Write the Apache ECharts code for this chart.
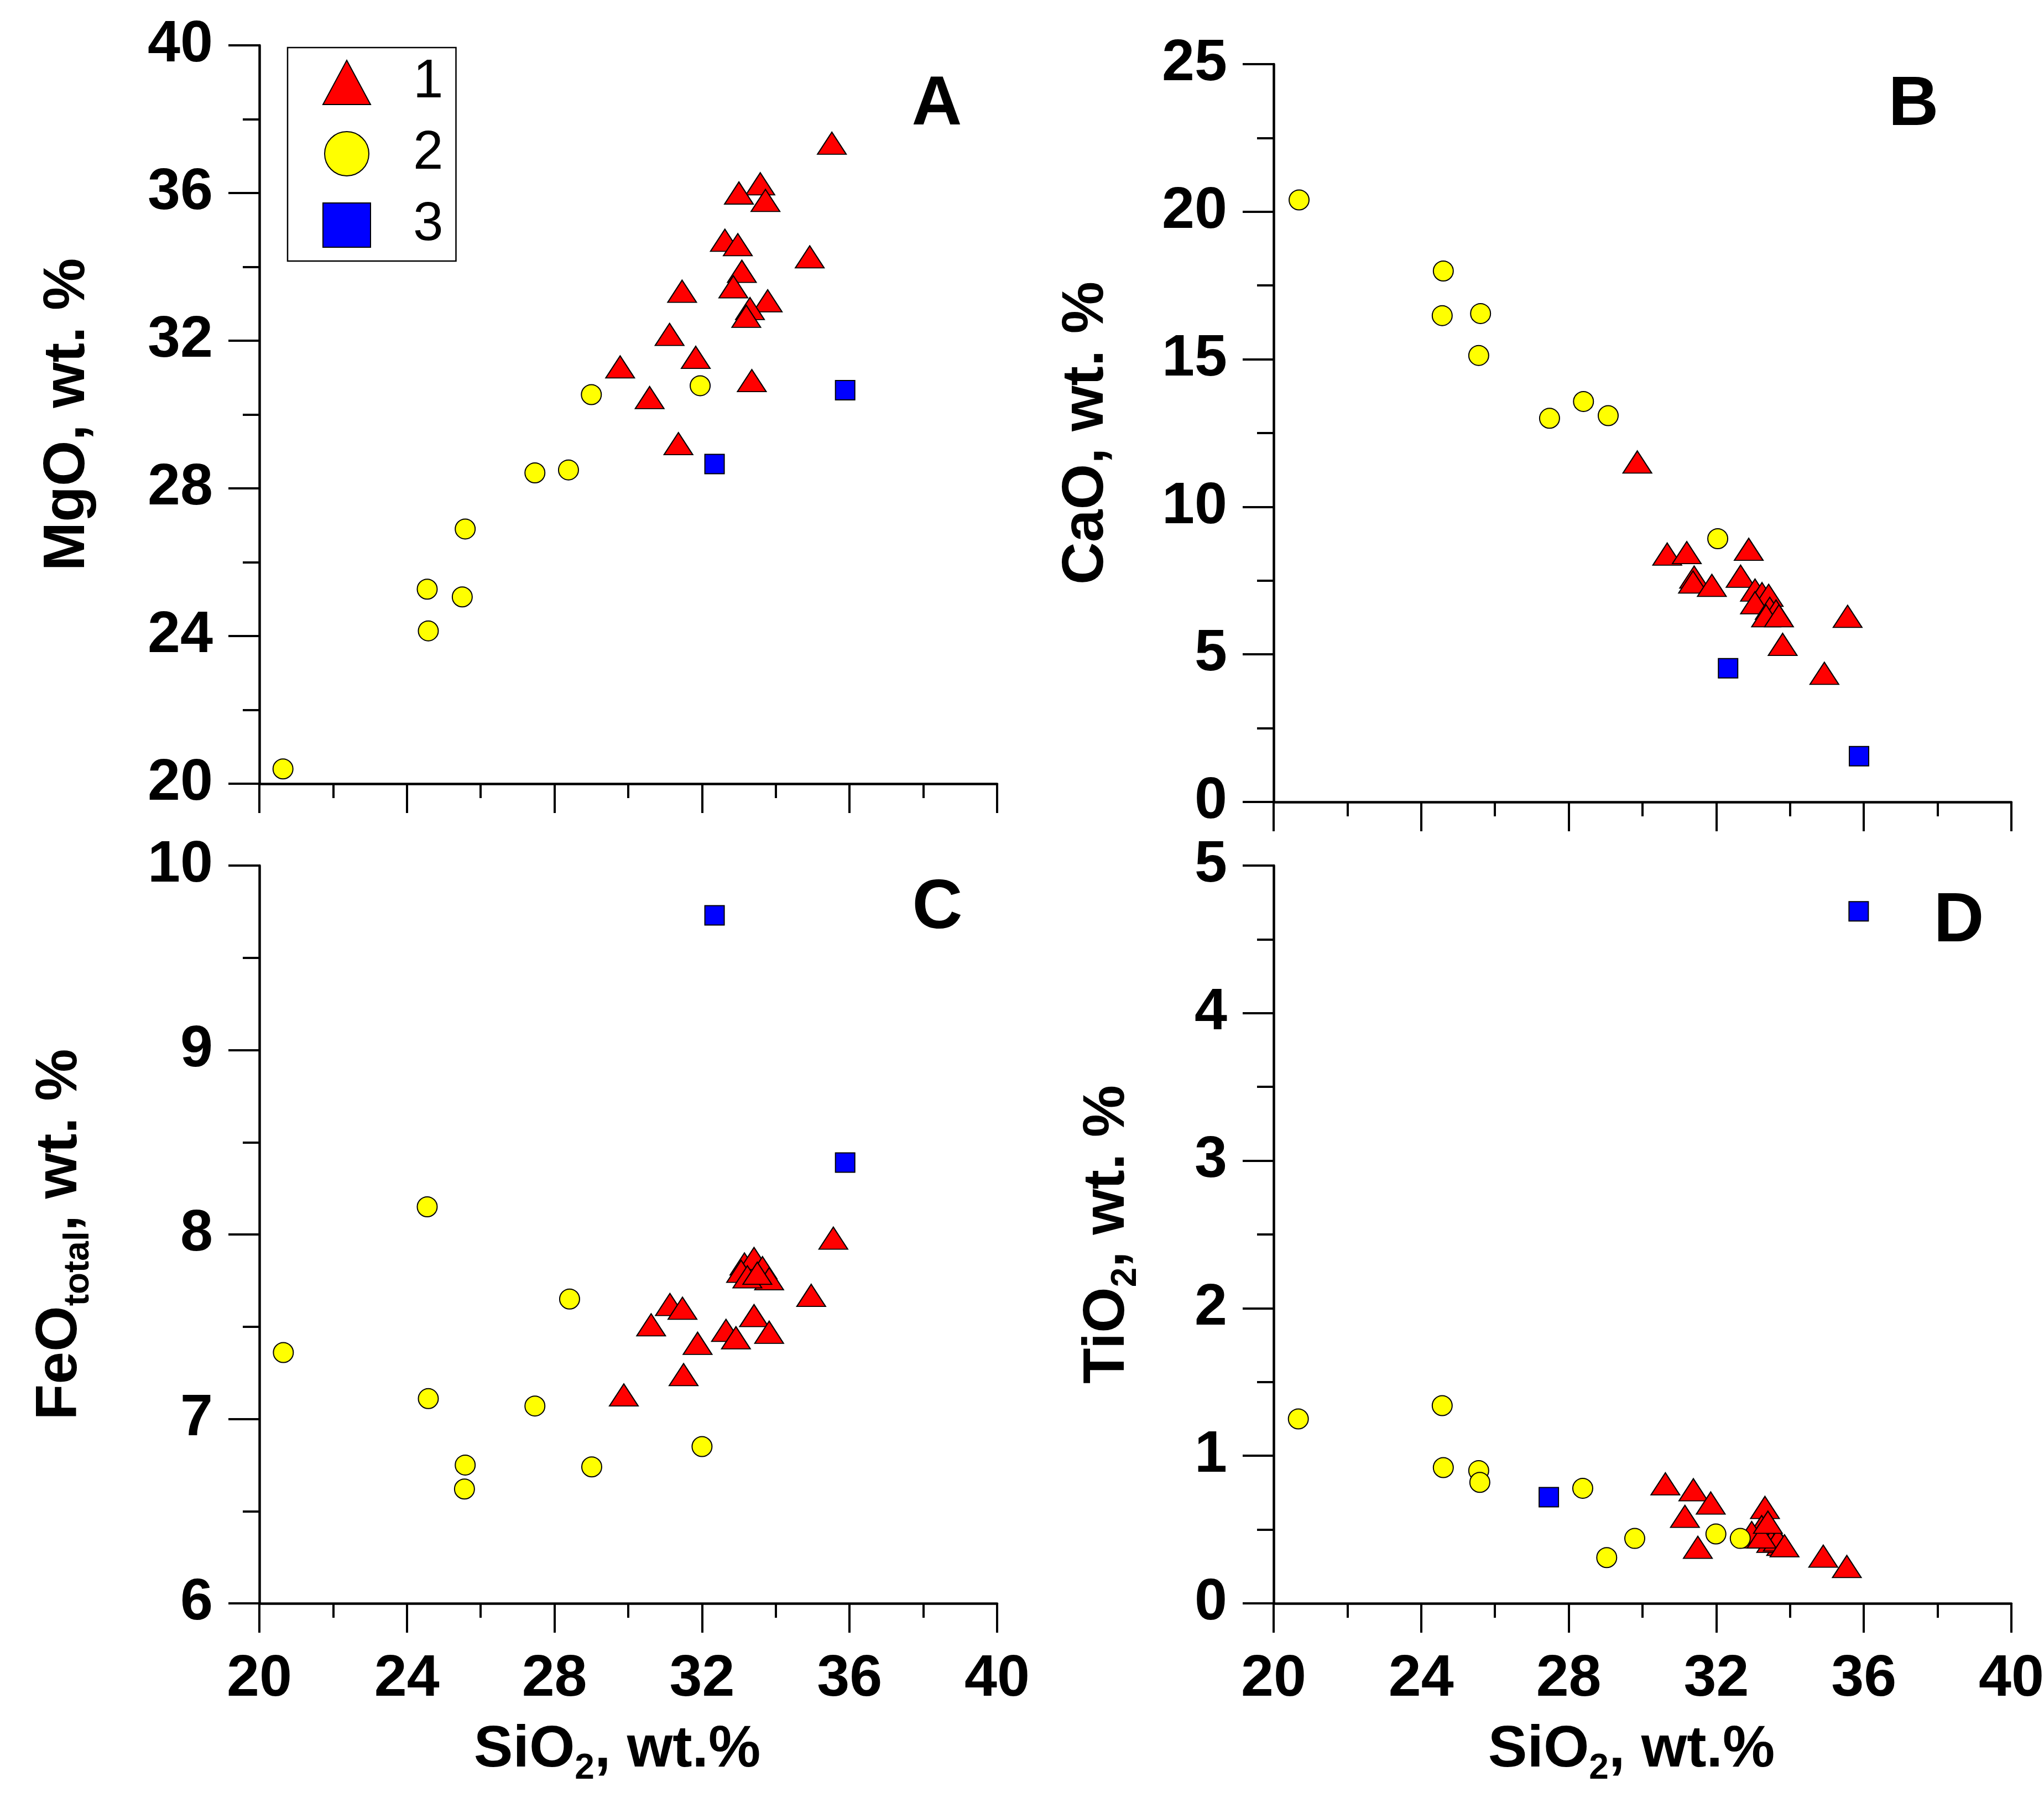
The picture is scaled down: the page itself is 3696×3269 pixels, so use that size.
<!DOCTYPE html>
<html><head><meta charset="utf-8">
<script src="https://cdn.jsdelivr.net/npm/echarts@6/dist/echarts.min.js"></script>
<style>html,body{margin:0;padding:0;background:#fff}#c{width:3696px;height:3269px}</style>
</head><body><div id="c"></div>
<script>
// ---- data (SiO2, oxide) pairs ----
const seriesNames = ['1', '2', '3'];
const siTicks = [20, 24, 28, 32, 36, 40];

// Panel A: MgO vs SiO2
const triA = [[35.52,37.35],[33.58,36.25],[33.0,36.0],[33.72,35.8],[32.62,34.72],[32.97,34.6],[34.92,34.27],[33.08,33.88],[31.46,33.34],[32.85,33.46],[33.78,33.08],[33.3,32.87],[33.2,32.66],[31.12,32.17],[31.83,31.55],[29.78,31.29],[33.35,30.92],[30.58,30.46],[31.36,29.21]];
const circA = [[20.64,20.4],[24.55,25.27],[25.5,25.06],[25.58,26.9],[24.58,24.14],[27.47,28.42],[28.38,28.5],[29.0,30.54],[31.95,30.78]];
const sqA = [[32.34,28.66],[35.88,30.66]];

// Panel B: CaO vs SiO2
const triB = [[29.86,11.52],[30.67,8.4],[31.2,8.45],[32.88,8.56],[31.4,7.62],[31.37,7.45],[31.88,7.34],[32.66,7.65],[33.05,7.18],[33.24,7.06],[33.42,7.0],[33.05,6.75],[33.45,6.56],[33.62,6.47],[33.35,6.31],[33.7,6.31],[33.8,5.34],[35.56,6.29],[34.93,4.36]];
const circB = [[20.69,20.4],[24.6,17.99],[24.57,16.48],[25.61,16.55],[25.56,15.13],[27.48,13.0],[28.4,13.57],[29.07,13.09],[32.04,8.92]];
const sqB = [[32.32,4.53],[35.87,1.55]];

// Panel C: FeO total vs SiO2
const triC = [[35.56,7.98],[29.88,7.13],[30.62,7.51],[31.13,7.62],[31.47,7.6],[31.5,7.24],[31.88,7.41],[32.65,7.48],[32.92,7.44],[33.41,7.56],[33.82,7.47],[34.96,7.67],[33.15,7.84],[33.41,7.87],[33.06,7.8],[33.64,7.82],[33.82,7.76],[33.23,7.77],[33.5,7.79]];
const circC = [[20.65,7.36],[24.55,8.15],[24.58,7.11],[25.58,6.75],[25.56,6.62],[27.47,7.07],[28.41,7.65],[29.01,6.74],[32.0,6.85]];
const sqC = [[32.34,9.73],[35.88,8.39]];

// Panel D: TiO2 vs SiO2
const triD = [[30.62,0.81],[31.38,0.77],[31.85,0.68],[31.15,0.59],[31.5,0.38],[33.32,0.65],[33.05,0.45],[33.23,0.52],[33.4,0.48],[33.58,0.46],[33.76,0.4],[34.9,0.32],[35.54,0.25],[32.96,0.48],[33.49,0.42],[33.67,0.43],[33.23,0.45],[33.4,0.55],[33.85,0.39]];
const circD = [[20.67,1.25],[24.57,1.34],[24.6,0.92],[25.56,0.9],[25.59,0.82],[28.38,0.78],[29.03,0.31],[29.79,0.44],[31.99,0.47],[32.65,0.44]];
const sqD = [[35.86,4.69],[27.46,0.72]];

// axis ranges
const yRanges = [
  {min: 20, max: 40, interval: 4},
  {min: 0, max: 25, interval: 5},
  {min: 6, max: 10, interval: 1},
  {min: 0, max: 5, interval: 1}
];
const yNames = [
  '{m|MgO, wt. %}',
  '{m|CaO, wt. %}',
  '{m|FeO}{s|total}{m|, wt. %}',
  '{m|TiO}{s|2}{m|, wt. %}'
];
const xName = '{m|SiO}{s|2}{m|, wt.%}';
const panelLetters = ['A', 'B', 'C', 'D'];

// ---- styling / layout ----
const FONT = 'Liberation Sans, Arial, sans-serif';
const grids = [
  {left: 469, top: 82, width: 1334, height: 1335},
  {left: 2303, top: 116, width: 1334, height: 1334},
  {left: 469, top: 1565, width: 1334, height: 1334},
  {left: 2303, top: 1565, width: 1334, height: 1334}
];
const yNameGaps = [281, 273, 295, 235];
const letterPos = [[1694, 190], [3460, 191], [1695, 1643], [3542, 1667]];

const rich = {
  m: {fontFamily: FONT, fontWeight: 'bold', fontSize: 106, lineHeight: 130, color: '#000'},
  s: {fontFamily: FONT, fontWeight: 'bold', fontSize: 64, lineHeight: 58, verticalAlign: 'bottom', color: '#000'}
};

const xAxes = grids.map((g, i) => ({
  type: 'value', gridIndex: i, min: siTicks[0], max: siTicks[siTicks.length - 1], interval: 4,
  name: i >= 2 ? xName : '', nameLocation: 'middle', nameGap: 201,
  nameTextStyle: {rich: rich, padding: [0, 40, 0, 0]},
  axisLine: {show: true, onZero: false, lineStyle: {color: '#000', width: 4.5}},
  axisTick: {show: true, length: 53, lineStyle: {color: '#000', width: 4}},
  minorTick: {show: true, splitNumber: 2, length: 26, lineStyle: {color: '#000', width: 4}},
  splitLine: {show: false}, minorSplitLine: {show: false},
  axisLabel: {show: i >= 2, margin: 85, color: '#000', fontFamily: FONT, fontWeight: 'bold', fontSize: 106,
    showMinLabel: true, showMaxLabel: true}
}));

const yAxes = grids.map((g, i) => ({
  type: 'value', gridIndex: i, min: yRanges[i].min, max: yRanges[i].max, interval: yRanges[i].interval,
  name: yNames[i], nameLocation: 'middle', nameGap: yNameGaps[i], nameRotate: 90,
  nameTextStyle: {rich: rich},
  axisLine: {show: true, onZero: false, lineStyle: {color: '#000', width: 4.5}},
  axisTick: {show: true, length: 56, lineStyle: {color: '#000', width: 4}},
  minorTick: {show: true, splitNumber: 2, length: 30, lineStyle: {color: '#000', width: 4}},
  splitLine: {show: false}, minorSplitLine: {show: false},
  axisLabel: {show: true, margin: 84, color: '#000', fontFamily: FONT, fontWeight: 'bold', fontSize: 106,
    showMinLabel: true, showMaxLabel: true}
}));

const panelData = [[triA, circA, sqA], [triB, circB, sqB], [triC, circC, sqC], [triD, circD, sqD]];
const symbols = ['triangle', 'circle', 'rect'];
const sizes = [[52, 40], 36, 35];
const colors = ['#ff0000', '#ffff00', '#0000ff'];

const series = [];
panelData.forEach((sets, i) => {
  sets.forEach((d, k) => {
    series.push({
      type: 'scatter', name: seriesNames[k], data: d,
      xAxisIndex: i, yAxisIndex: i,
      symbol: symbols[k], symbolSize: sizes[k],
      itemStyle: {color: colors[k], borderColor: '#000', borderWidth: 2, opacity: 1},
      emphasis: {disabled: true},
      z: 2 + k
    });
  });
});

const graphic = panelLetters.map((t, i) => ({
  type: 'text', x: letterPos[i][0], y: letterPos[i][1], z: 100,
  style: {text: t, fill: '#000', font: 'bold 126px ' + FONT, textAlign: 'center', textVerticalAlign: 'middle'}
}));

const chart = echarts.init(document.getElementById('c'), null, {renderer: 'canvas'});
chart.setOption({
  backgroundColor: '#ffffff',
  animation: false,
  grid: grids.map(g => Object.assign({containLabel: false, outerBoundsMode: 'none'}, g)),
  xAxis: xAxes,
  yAxis: yAxes,
  legend: {
    data: [{name: '1', icon: 'triangle'}, {name: '2', icon: 'circle'}, {name: '3', icon: 'rect'}],
    orient: 'vertical', left: 520, top: 86,
    padding: [14, 23, 16, 63],
    itemWidth: 86, itemHeight: 80, itemGap: 31,
    borderColor: '#000', borderWidth: 2.5, backgroundColor: '#fff',
    selectedMode: false,
    textStyle: {fontFamily: FONT, fontSize: 98, color: '#000', lineHeight: 80, padding: [0, 0, 0, 72]}
  },
  graphic: graphic,
  series: series
});
</script>
</body></html>
